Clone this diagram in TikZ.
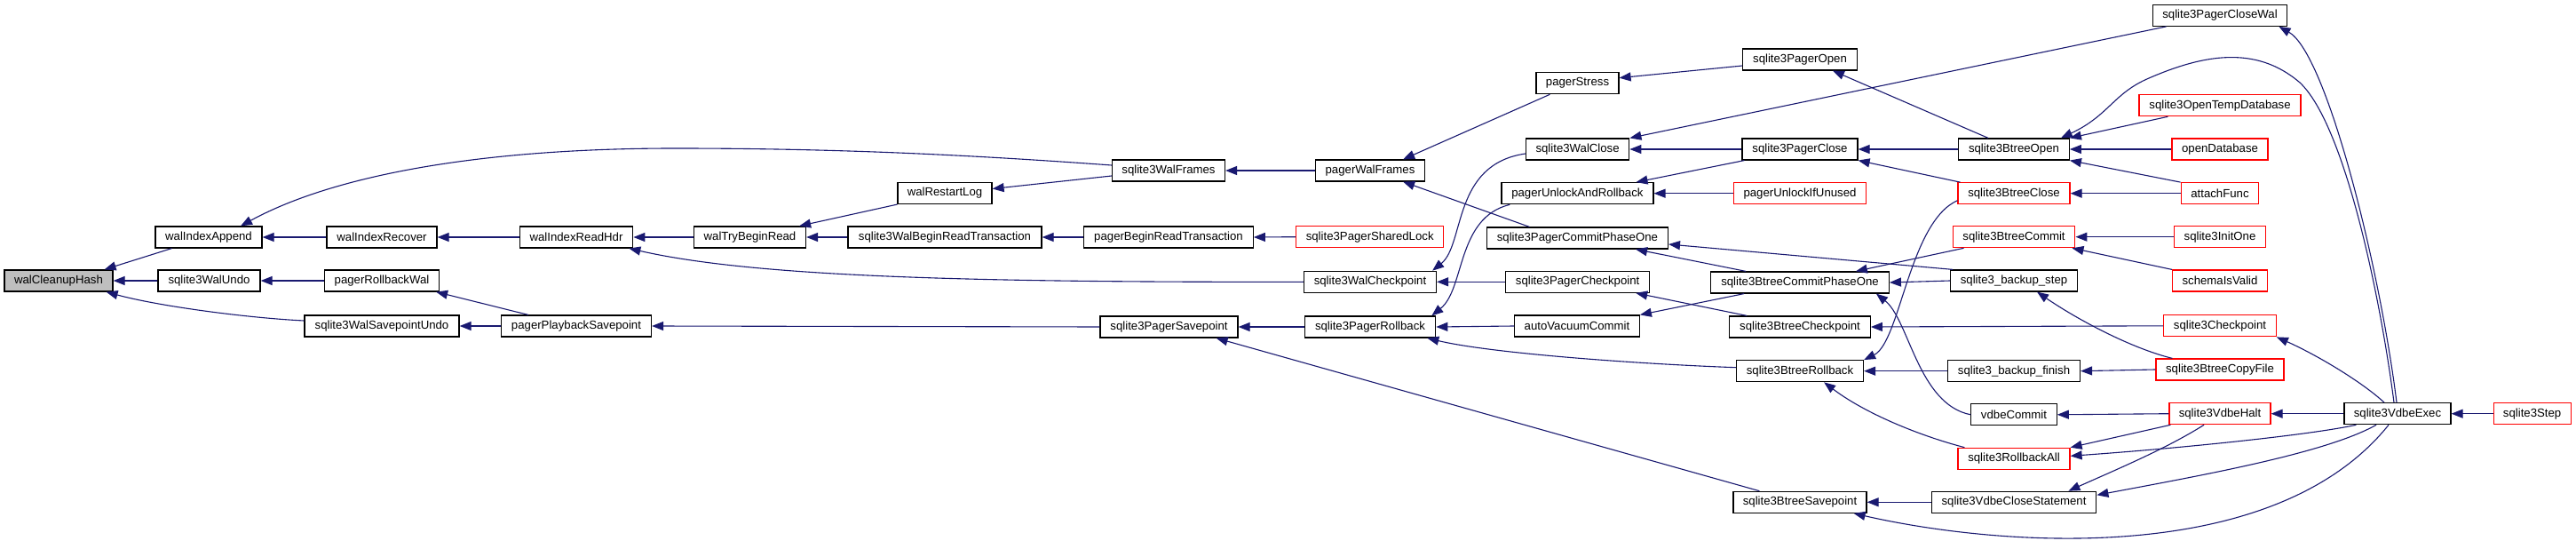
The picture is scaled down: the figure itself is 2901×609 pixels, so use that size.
\documentclass[tikz,border=0pt]{standalone}
\usepackage{fontspec}
\setmainfont{Liberation Sans}
\usetikzlibrary{arrows.meta}
\definecolor{edgec}{RGB}{25,25,112}
\definecolor{grayfill}{RGB}{191,191,191}
\begin{document}
\begin{tikzpicture}[x=1pt,y=-1pt,
  fn/.style={draw=black, line width=1.2pt, fill=white, minimum height=24pt, inner sep=0pt, font=\fontsize{13.2}{15}\selectfont},
  rd/.style={fn, draw=red},
  cl/.style={draw=edgec, line width=1.1pt, {Triangle[length=13pt,width=10pt]}-}]
\useasboundingbox (0,0) rectangle (2901,609);
% nodes
\node[fn, fill=grayfill, minimum width=122pt] (wch) at (66,316) {walCleanupHash};
\node[fn, minimum width=120pt] (wia) at (235,267) {walIndexAppend};
\node[fn, minimum width=115pt] (wun) at (235.5,316) {sqlite3WalUndo};
\node[fn, minimum width=124pt] (wir) at (430,267) {walIndexRecover};
\node[fn, minimum width=129pt] (prw) at (430,316) {pagerRollbackWal};
\node[fn, minimum width=174pt] (wsu) at (430,367) {sqlite3WalSavepointUndo};
\node[fn, minimum width=127.5pt] (wrh) at (649,267) {walIndexReadHdr};
\node[fn, minimum width=169pt] (pps) at (649,367) {pagerPlaybackSavepoint};
\node[fn, minimum width=127pt] (wfr) at (1316,192) {sqlite3WalFrames};
\node[fn, minimum width=106pt] (wrl) at (1064,217.5) {walRestartLog};
\node[fn, minimum width=126pt] (wtb) at (844.5,267) {walTryBeginRead};
\node[fn, minimum width=218pt] (wbrt) at (1064,267) {sqlite3WalBeginReadTransaction};
\node[fn, minimum width=190.5pt] (pbrt) at (1316,267) {pagerBeginReadTransaction};
\node[fn, minimum width=155pt] (psp) at (1316.5,368) {sqlite3PagerSavepoint};
\node[fn, minimum width=93pt] (pst) at (1776.5,93.7) {pagerStress};
\node[fn, minimum width=128.5pt] (pop) at (2027,67) {sqlite3PagerOpen};
\node[fn, minimum width=123pt] (pwf) at (1543,192) {pagerWalFrames};
\node[fn, minimum width=116.4pt] (wcl) at (1776.6,168) {sqlite3WalClose};
\node[fn, minimum width=130pt] (pcl) at (2027,168) {sqlite3PagerClose};
\node[fn, minimum width=171pt] (puar) at (1776.4,217.7) {pagerUnlockAndRollback};
\node[rd, minimum width=149pt] (puiu) at (2027,217.7) {pagerUnlockIfUnused};
\node[rd, minimum width=166pt] (psl) at (1542.7,266.7) {sqlite3PagerSharedLock};
\node[fn, minimum width=204pt] (pcpo) at (1776.4,268) {sqlite3PagerCommitPhaseOne};
\node[fn, minimum width=149pt] (wcp) at (1543,317.3) {sqlite3WalCheckpoint};
\node[fn, minimum width=162pt] (pcp) at (1776.6,317.3) {sqlite3PagerCheckpoint};
\node[fn, minimum width=200.6pt] (bcpo) at (2027,318) {sqlite3BtreeCommitPhaseOne};
\node[fn, minimum width=147.4pt] (prb) at (1543,368) {sqlite3PagerRollback};
\node[fn, minimum width=140.6pt] (avc) at (1776,367) {autoVacuumCommit};
\node[fn, minimum width=158.5pt] (bcp) at (2027,368) {sqlite3BtreeCheckpoint};
\node[fn, minimum width=143pt] (brb) at (2027,417.7) {sqlite3BtreeRollback};
\node[fn, minimum width=150pt] (bsp) at (2027,565.3) {sqlite3BtreeSavepoint};
\node[fn, minimum width=151.7pt] (pcw) at (2500,17.3) {sqlite3PagerCloseWal};
\node[rd, minimum width=182pt] (otd) at (2500,118.7) {sqlite3OpenTempDatabase};
\node[fn, minimum width=124.6pt] (bop) at (2268,168) {sqlite3BtreeOpen};
\node[rd, minimum width=108pt] (odb) at (2500,168) {openDatabase};
\node[rd, minimum width=126pt] (bcl) at (2268,217.7) {sqlite3BtreeClose};
\node[rd, minimum width=87.7pt] (atf) at (2500,217.7) {attachFunc};
\node[rd, minimum width=137.7pt] (bcm) at (2268,266.7) {sqlite3BtreeCommit};
\node[rd, minimum width=103pt] (ino) at (2500,266.7) {sqlite3InitOne};
\node[rd, minimum width=107pt] (siv) at (2500,316) {schemaIsValid};
\node[fn, minimum width=142.5pt] (bks) at (2268,316) {sqlite3\_backup\_step};
\node[rd, minimum width=126.5pt] (ckp) at (2500,366.8) {sqlite3Checkpoint};
\node[rd, minimum width=144pt] (bcf) at (2500,416) {sqlite3BtreeCopyFile};
\node[fn, minimum width=149pt] (bkf) at (2268,417.7) {sqlite3\_backup\_finish};
\node[fn, minimum width=96.4pt] (vcm) at (2268,466.8) {vdbeCommit};
\node[rd, minimum width=114pt] (vhl) at (2500,465.7) {sqlite3VdbeHalt};
\node[fn, minimum width=120pt] (vex) at (2700,465.7) {sqlite3VdbeExec};
\node[rd, minimum width=87pt] (stp) at (2851.6,465.7) {sqlite3Step};
\node[rd, minimum width=126pt] (rba) at (2268,516.3) {sqlite3RollbackAll};
\node[fn, minimum width=185.6pt] (vcs) at (2268,565.3) {sqlite3VdbeCloseStatement};
% edges
\draw[cl] ([xshift=-10pt]wch.north east) -- ([xshift=19pt]wia.south west);
\draw[cl] (wch.east) -- (wun.west);
\draw[cl] ([xshift=-8pt]wch.south east) .. controls (180,345) and (280,358) .. ([yshift=6pt]wsu.west);
\draw[cl] (wia.east) -- (wir.west);
\draw[cl] ([xshift=36pt]wia.north) .. controls (380,195) and (550,167) .. (760,167) .. controls (950,167) and (1100,175) .. ([yshift=6pt]wfr.west);
\draw[cl] (wir.east) -- (wrh.west);
\draw[cl] (wrh.east) -- (wtb.west);
\draw[cl] ([xshift=-5pt]wrh.south east) .. controls (850,312) and (1100,318) .. (wcp.west);
\draw[cl] (wun.east) -- (prw.west);
\draw[cl] ([xshift=-4pt]prw.south east) -- ([xshift=31pt]pps.north west);
\draw[cl] (wsu.east) -- (pps.west);
\draw[cl] (pps.east) -- (psp.west);
\draw[cl] ([xshift=-8pt]wtb.north east) -- (wrl.south west);
\draw[cl] (wtb.east) -- (wbrt.west);
\draw[cl] ([yshift=5pt]wrl.east) -- ([yshift=-6pt]wfr.west);
\draw[cl] (wbrt.east) -- (pbrt.west);
\draw[cl] (pbrt.east) -- (psl.west);
\draw[cl] (wfr.east) -- (pwf.west);
\draw[cl] ([xshift=-25pt]pwf.north east) -- ([xshift=16pt]pst.south west);
\draw[cl] ([xshift=-25pt]pwf.south east) -- ([xshift=-54pt]pcpo.north);
\draw[cl] ([yshift=6pt]pst.east) -- ([yshift=-7pt]pop.west);
\draw[cl] ([xshift=-28pt]pop.south east) -- ([xshift=-29pt]bop.north);
\draw[cl] (wcl.east) -- (pcl.west);
\draw[cl] (wcl.north east) -- ([xshift=16pt]pcw.south west);
\draw[cl] ([xshift=-5pt]wcp.north east) .. controls (1650,275) and (1635,185) .. ([yshift=-5pt]wcl.west);
\draw[cl] (wcp.east) -- (pcp.west);
\draw[cl] (psp.east) -- (prb.west);
\draw[cl] ([xshift=-25pt]psp.south east) -- ([xshift=30pt]bsp.north west);
\draw[cl] ([xshift=-5pt]prb.north east) .. controls (1650,325) and (1640,245) .. ([xshift=10pt]puar.south west);
\draw[cl] (prb.east) -- (avc.west);
\draw[cl] ([xshift=-10pt]prb.south east) .. controls (1680,398) and (1850,410) .. ([yshift=4pt]brb.west);
\draw[cl] ([xshift=-20pt]puar.north east) -- ([xshift=3pt]pcl.south west);
\draw[cl] (puar.east) -- (puiu.west);
\draw[cl] (pcl.east) -- (bop.west);
\draw[cl] (pcl.south east) -- ([xshift=3pt]bcl.north west);
\draw[cl] ([xshift=-37pt]pcpo.south east) -- ([xshift=40pt]bcpo.north west);
\draw[cl] ([yshift=-7pt]pcpo.east) -- ([xshift=3pt]bks.north west);
\draw[cl] ([xshift=-16pt]pcp.south east) -- ([xshift=20pt]bcp.north west);
\draw[cl] (avc.north east) -- ([xshift=38pt]bcpo.south west);
\draw[cl] ([xshift=-38pt]bcpo.north east) -- ([xshift=13pt]bcm.south west);
\draw[cl] (bcpo.east) -- (bks.west);
\draw[cl] ([xshift=-15pt]bcpo.south east) .. controls (2150,360) and (2160,455) .. (vcm.west);
\draw[cl] (brb.east) -- (bkf.west);
\draw[cl] ([xshift=-45pt]brb.south east) .. controls (2100,465) and (2160,490) .. ([xshift=8pt]rba.north west);
\draw[cl] (brb.north east) .. controls (2140,385) and (2150,250) .. ([yshift=-8pt]bcl.west);
\draw[cl] (bcp.east) -- (ckp.west);
\draw[cl] (bsp.east) -- (vcs.west);
\draw[cl] ([xshift=-15pt]bsp.south east) .. controls (2250,615) and (2560,640) .. ([xshift=-10pt]vex.south);
\draw[cl] (bop.north east) -- ([xshift=33pt]otd.south west);
\draw[cl] (bop.east) -- (odb.west);
\draw[cl] (bop.south east) -- (atf.north west);
\draw[cl] ([xshift=-10pt]bop.north east) .. controls (2375,130) and (2380,105) .. (2420,88) .. controls (2480,62) and (2540,50) .. (2590,93) .. controls (2640,140) and (2680,330) .. ([xshift=-4pt]vex.north);
\draw[cl] ([xshift=-10pt]pcw.south east) .. controls (2620,60) and (2680,300) .. ([xshift=-1pt]vex.north);
\draw[cl] (bcl.east) -- (atf.west);
\draw[cl] (bcm.east) -- (ino.west);
\draw[cl] ([xshift=-4pt]bcm.south east) -- (siv.north west);
\draw[cl] ([xshift=26pt]bks.south) .. controls (2340,360) and (2400,392) .. ([xshift=19pt]bcf.north west);
\draw[cl] (bkf.east) -- (bcf.west);
\draw[cl] (ckp.south east) .. controls (2610,400) and (2660,430) .. ([xshift=-15pt]vex.north);
\draw[cl] (vcm.east) -- (vhl.west);
\draw[cl] (vhl.east) -- (vex.west);
\draw[cl] (vex.east) -- (stp.west);
\draw[cl] (rba.north east) -- ([xshift=2pt]vhl.south west);
\draw[cl] ([yshift=3pt]rba.east) .. controls (2450,505) and (2600,490) .. ([xshift=14pt]vex.south west);
\draw[cl] ([xshift=-32pt]vcs.north east) .. controls (2380,530) and (2440,505) .. ([xshift=-18pt]vhl.south);
\draw[cl] ([yshift=8pt]vcs.east) .. controls (2480,535) and (2620,510) .. ([xshift=-24pt]vex.south);
\end{tikzpicture}
\end{document}
